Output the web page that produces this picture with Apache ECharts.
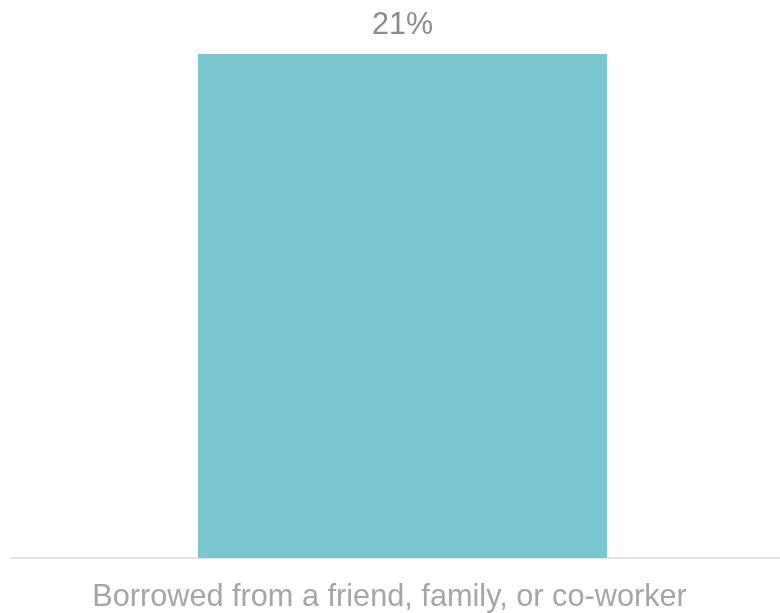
<!DOCTYPE html>
<html><head><meta charset="utf-8">
<script src="https://cdn.jsdelivr.net/npm/echarts@6/dist/echarts.min.js"></script>
<style>html,body{margin:0;padding:0;background:#fff}#c{width:780px;height:613px}</style>
</head><body><div id="c"></div>
<script>
const categories = ["Borrowed from a friend, family, or co-worker"];
const values = [21];
const spacer = [0];
const chart = echarts.init(document.getElementById('c'));
chart.setOption({
  animation: false,
  grid: {left: 11, right: 0, top: 54, bottom: 53},
  xAxis: {
    type: 'category', data: categories,
    axisLine: {lineStyle: {color: '#e5e5e5', width: 2}},
    axisTick: {show: false},
    axisLabel: {color: '#a6a6a6', fontSize: 30.7, fontFamily: 'Liberation Sans', margin: 24, padding: [0, 12, 0, 0]}
  },
  yAxis: {type: 'value', min: 0, max: 21, show: false, splitLine: {show: false}},
  series: [{
    type: 'bar', data: spacer, barWidth: 14, barGap: '0%',
    itemStyle: {color: 'rgba(0,0,0,0)'}, silent: true
  }, {
    type: 'bar', data: values, barWidth: 409, barGap: '0%',
    itemStyle: {color: '#7ac7d0'},
    label: {show: true, position: 'top', distance: 13, formatter: '{c}%', color: '#8c8c8c', fontSize: 30.5, fontFamily: 'Liberation Sans'}
  }]
});
</script></body></html>
